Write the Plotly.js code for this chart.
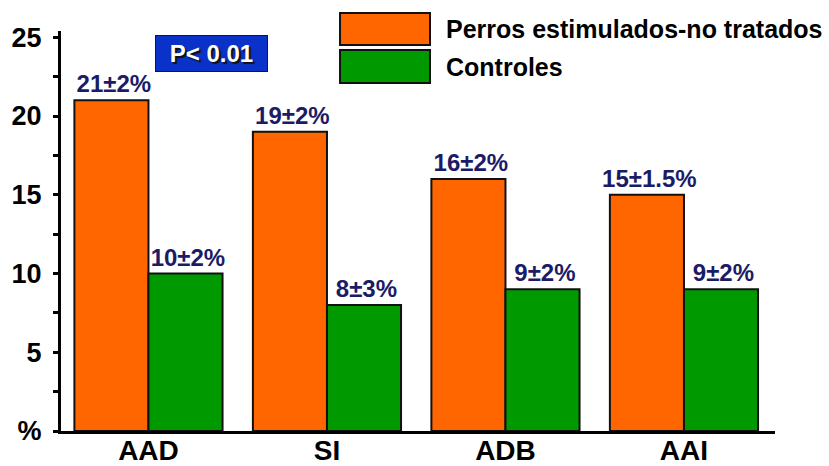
<!DOCTYPE html>
<html>
<head>
<meta charset="utf-8">
<script src="https://cdn.plot.ly/plotly-3.0.1.min.js"></script>
<style>html,body{margin:0;padding:0;background:#fff;}</style>
</head>
<body>
<div id="chart" style="width:829px;height:466px;"></div>
<script>
// Regions measured
const categories = ['AAD', 'SI', 'ADB', 'AAI'];
// Stimulated, untreated dogs: mean and spread (%)
const stimulated = [21, 19, 16, 15];
const stimulatedErr = [2, 2, 2, 1.5];
// Control dogs: mean and spread (%)
const controls = [10, 8, 9, 9];
const controlsErr = [2, 3, 2, 2];
// Y axis labels (the unit sits at the origin)
const yTickVals = [0, 5, 10, 15, 20, 25];
const yTickText = ['%', '5', '10', '15', '20', '25'];
const seriesNames = ['Perros estimulados-no tratados', 'Controles'];
const pValueText = 'P< 0.01';

const FONT = 'Arial, "Liberation Sans", sans-serif';
const ORANGE = '#ff6600';
const GREEN = '#009900';
const NAVY = '#1b1b66';

function labels(vals, errs) {
  // a thin leading space nudges each label a little to the right
  return vals.map((v, i) => '\u2009' + v + '±' + errs[i] + '%');
}

function barTrace(name, vals, errs, color) {
  return {
    type: 'bar',
    name: name,
    x: categories,
    y: vals,
    text: labels(vals, errs),
    textposition: 'outside',
    constraintext: 'none',
    cliponaxis: false,
    textfont: {family: FONT, size: 24, weight: 'bold', color: NAVY},
    marker: {color: color, line: {color: '#111', width: 2}},
    hoverinfo: 'x+y'
  };
}

const data = [
  barTrace(seriesNames[0], stimulated, stimulatedErr, ORANGE),
  barTrace(seriesNames[1], controls, controlsErr, GREEN)
];

// Hand-drawn legend: big swatches to the left of each series name
const legendColors = [ORANGE, GREEN];
const swatchTop = [1.045, 0.9525];
const swatchBottom = [0.965, 0.87];
const shapes = legendColors.map((c, i) => ({
  type: 'rect', xref: 'paper', yref: 'paper',
  x0: 0.3908, x1: 0.5168, y0: swatchBottom[i], y1: swatchTop[i],
  fillcolor: c, line: {color: '#111', width: 2}
}));
const annotations = seriesNames.map((n, i) => ({
  xref: 'paper', yref: 'paper',
  x: 0.537, y: (swatchTop[i] + swatchBottom[i]) / 2,
  xanchor: 'left', yanchor: 'middle',
  text: n, showarrow: false,
  font: {family: FONT, size: 25, weight: 'bold', color: '#000'}
}));

// Significance badge
annotations.push({
  xref: 'paper', yref: 'paper',
  x: 0.2108, y: 0.944, xanchor: 'center', yanchor: 'middle',
  text: pValueText, showarrow: false,
  width: 111, height: 35, borderpad: 0, borderwidth: 1,
  bgcolor: '#0a32c8', bordercolor: '#0a1450',
  font: {family: FONT, size: 24, weight: 'bold', color: '#fff',
         shadow: '2px 2px 1px #111'}
});

const layout = {
  width: 829, height: 466,
  margin: {l: 61, r: 54, t: 31, b: 35, pad: 0},
  paper_bgcolor: '#fff', plot_bgcolor: '#fff',
  showlegend: false,
  barmode: 'group',
  bargap: 0.17,
  bargroupgap: 0,
  font: {family: FONT, color: '#000'},
  xaxis: {
    type: 'category',
    range: [-0.49, 3.51],
    showline: true, linecolor: '#000', linewidth: 3,
    ticks: '', showgrid: false, zeroline: false,
    tickfont: {family: FONT, size: 28, weight: 'bold', color: '#000'},
    ticklabelstandoff: -8
  },
  yaxis: {
    range: [0, 25.4],
    tickmode: 'array', tickvals: yTickVals, ticktext: yTickText,
    showline: true, linecolor: '#000', linewidth: 3,
    ticks: 'outside', ticklen: 5, tickwidth: 3, tickcolor: '#000',
    minor: {dtick: 5, tick0: 2.5, ticks: 'outside', ticklen: 5, tickwidth: 3, tickcolor: '#000'},
    showgrid: false, zeroline: false,
    tickfont: {family: FONT, size: 27, weight: 'bold', color: '#000'},
    ticklabelstandoff: 6
  },
  shapes: shapes,
  annotations: annotations
};

Plotly.newPlot('chart', data, layout, {displayModeBar: false, staticPlot: true});
</script>
</body>
</html>
